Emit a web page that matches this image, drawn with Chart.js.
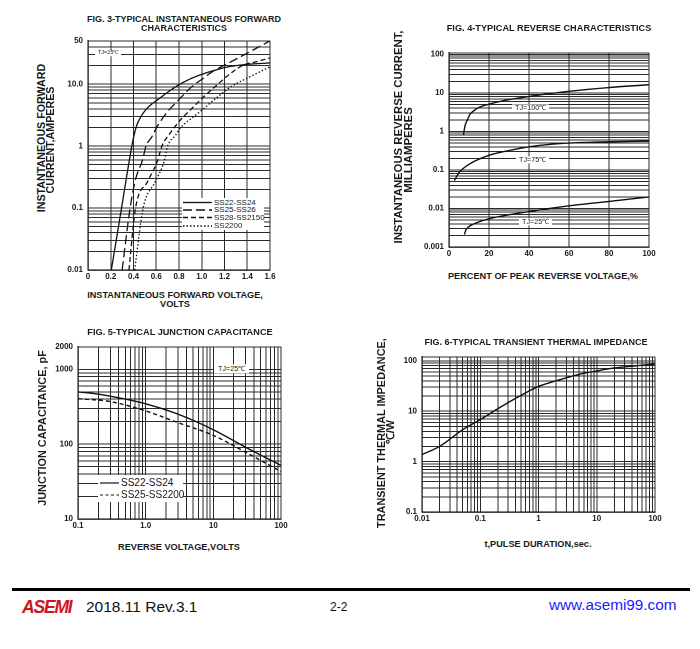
<!DOCTYPE html>
<html>
<head>
<meta charset="utf-8">
<script src="https://cdn.jsdelivr.net/npm/chart.js@4.4.1/dist/chart.umd.min.js"></script>
<style>
  html, body { margin:0; padding:0; background:#fff; }
  body { width:700px; height:649px; position:relative; overflow:hidden; font-family:"Liberation Sans", Arial, sans-serif; color:#1a1a1a; }
  canvas.ch { position:absolute; }
  .t { position:absolute; white-space:nowrap; font-weight:bold; transform:translate(-50%,-50%); z-index:5; line-height:1; }
  .r { transform:translate(-50%,-50%) rotate(-90deg); }
  .lab { position:absolute; white-space:nowrap; background:#fff; z-index:5; line-height:1; transform:translateY(-50%); }
  .leg { position:absolute; background:#fff; z-index:5; }
  .leg div { position:absolute; white-space:nowrap; line-height:1; transform:translateY(-50%); }
  .leg svg { position:absolute; overflow:visible; }
</style>
</head>
<body>

<!-- titles -->
<div class="t" style="left:184px;top:19px;font-size:9px;">FIG. 3-TYPICAL INSTANTANEOUS FORWARD</div>
<div class="t" style="left:184px;top:28px;font-size:9px;">CHARACTERISTICS</div>
<div class="t" style="left:549px;top:29px;font-size:9.2px;">FIG. 4-TYPICAL REVERSE CHARACTERISTICS</div>
<div class="t" style="left:180px;top:333px;font-size:9.2px;">FIG. 5-TYPICAL JUNCTION CAPACITANCE</div>
<div class="t" style="left:536px;top:342px;font-size:9px;">FIG. 6-TYPICAL TRANSIENT THERMAL IMPEDANCE</div>

<!-- x axis titles -->
<div class="t" style="left:175px;top:296px;font-size:9.2px;">INSTANTANEOUS FORWARD VOLTAGE,</div>
<div class="t" style="left:175px;top:305px;font-size:9.2px;">VOLTS</div>
<div class="t" style="left:543px;top:277px;font-size:9.2px;">PERCENT OF PEAK REVERSE VOLTAGE,%</div>
<div class="t" style="left:179px;top:548px;font-size:9.2px;">REVERSE VOLTAGE,VOLTS</div>
<div class="t" style="left:538px;top:545px;font-size:9.2px;">t,PULSE DURATION,sec.</div>

<!-- y axis titles -->
<div class="t r" style="left:41px;top:138px;font-size:10.7px;">INSTANTANEOUS FORWARD</div>
<div class="t r" style="left:50px;top:140px;font-size:10.7px;">CURRENT,AMPERES</div>
<div class="t r" style="left:399px;top:137px;font-size:11.3px;">INSTANTANEOUS REVERSE CURRENT,</div>
<div class="t r" style="left:409px;top:150px;font-size:11.3px;">MILLIAMPERES</div>
<div class="t r" style="left:42px;top:428px;font-size:10.9px;">JUNCTION CAPACITANCE, pF</div>
<div class="t r" style="left:381px;top:433px;font-size:10.9px;">TRANSIENT THERMAL IMPEDANCE,</div>
<div class="t r" style="left:390px;top:432px;font-size:10.9px;">℃/W</div>

<!-- in-plot labels -->
<div class="lab" style="left:95px;top:53px;font-size:5.5px;padding:0 3px;">TJ=25℃</div>
<div class="lab" style="left:512px;top:108px;font-size:7.2px;padding:0 3px;">TJ=100℃</div>
<div class="lab" style="left:516px;top:160px;font-size:7.2px;padding:0 3px;">TJ=75℃</div>
<div class="lab" style="left:519px;top:222px;font-size:7.2px;padding:0 3px;">TJ=25℃</div>
<div class="lab" style="left:214px;top:369px;font-size:7.2px;padding:1px 4px;">TJ=25℃</div>

<!-- legend fig 3 -->
<div class="leg" style="left:182px;top:198px;width:82px;height:32px;">
  <svg width="30" height="32" style="left:1px;top:0;">
    <line x1="0" y1="4.5" x2="29" y2="4.5" stroke="#111" stroke-width="1.3"/>
    <line x1="0" y1="12" x2="29" y2="12" stroke="#111" stroke-width="1.3" stroke-dasharray="9,4"/>
    <line x1="0" y1="19.5" x2="29" y2="19.5" stroke="#111" stroke-width="1.3" stroke-dasharray="5,3"/>
    <line x1="0" y1="28" x2="29" y2="28" stroke="#111" stroke-width="1.3" stroke-dasharray="1.5,2"/>
  </svg>
  <div style="left:32px;top:4.5px;font-size:8px;">SS22-SS24</div>
  <div style="left:32px;top:12px;font-size:8px;">SS25-SS26</div>
  <div style="left:32px;top:19.5px;font-size:8px;">SS28-SS2150</div>
  <div style="left:32px;top:28px;font-size:8px;">SS2200</div>
</div>

<!-- legend fig 5 -->
<div class="leg" style="left:98px;top:475px;width:85px;height:27px;">
  <svg width="22" height="27" style="left:2px;top:0;">
    <line x1="0" y1="8" x2="19" y2="8" stroke="#111" stroke-width="1.2"/>
    <line x1="0" y1="20" x2="19" y2="20" stroke="#111" stroke-width="1.2" stroke-dasharray="3,2.5"/>
  </svg>
  <div style="left:23px;top:8px;font-size:10px;">SS22-SS24</div>
  <div style="left:23px;top:20px;font-size:10px;">SS25-SS2200</div>
</div>

<!-- footer -->
<div style="position:absolute;left:12px;top:588px;width:678px;height:3px;background:#000;"></div>
<div style="position:absolute;left:22px;top:598px;font-size:17.5px;font-weight:bold;font-style:italic;color:#d0141e;letter-spacing:-1.2px;line-height:18px;">ASEMI</div>
<div style="position:absolute;left:86px;top:598px;font-size:15.5px;color:#111;line-height:18px;">2018.11 Rev.3.1</div>
<div style="position:absolute;left:330px;top:600px;font-size:12px;color:#111;line-height:14px;">2-2</div>
<div style="position:absolute;left:549px;top:596px;font-size:15.3px;color:#1a1aff;line-height:18px;">www.asemi99.com</div>

<canvas id="c3" class="ch"></canvas>
<canvas id="c4" class="ch"></canvas>
<canvas id="c5" class="ch"></canvas>
<canvas id="c6" class="ch"></canvas>

<script>
// ---------- DATA ----------
// Fig 3: forward voltage (V) vs forward current (A)
const F3_SS22_V = [0.205, 0.295, 0.385, 0.405, 0.43, 0.461, 0.50, 0.55, 0.607, 0.71, 0.81, 0.91, 1.016, 1.12, 1.22, 1.4, 1.6];
const F3_SS22_I = [0.01, 0.1, 1.0, 1.5, 2.2, 2.9, 3.7, 4.6, 5.5, 7.6, 10, 12.4, 14.7, 16.8, 18.8, 20.8, 22];
const F3_SS25_V = [0.30, 0.37, 0.42, 0.48, 0.51, 0.56, 0.607, 0.70, 0.81, 0.91, 1.016, 1.09, 1.25, 1.4, 1.6];
const F3_SS25_I = [0.01, 0.1, 0.3, 0.6, 1.0, 1.4, 2.05, 3.6, 5.9, 9.0, 12.5, 15.7, 22.6, 31.6, 50];
const F3_SS28_V = [0.36, 0.418, 0.525, 0.61, 0.65, 0.72, 0.81, 0.91, 1.016, 1.12, 1.25, 1.36, 1.48, 1.6];
const F3_SS28_I = [0.01, 0.1, 0.27, 0.57, 1.0, 1.6, 2.6, 4.0, 6.2, 9.2, 14.7, 20, 23, 26.5];
const F3_SS2200_V = [0.41, 0.485, 0.593, 0.67, 0.70, 0.77, 0.81, 0.91, 1.016, 1.12, 1.25, 1.4, 1.6];
const F3_SS2200_I = [0.01, 0.1, 0.27, 0.57, 1.0, 1.5, 1.95, 2.8, 4.0, 5.8, 8.9, 12.5, 19];
const F3_X_TICKS = [0, 0.2, 0.4, 0.6, 0.8, 1.0, 1.2, 1.4, 1.6];
const F3_X_LABELS = ['0', '0.2', '0.4', '0.6', '0.8', '1.0', '1.2', '1.4', '1.6'];
const F3_Y_TICKS = [0.01, 0.1, 1, 10, 50];
const F3_Y_LABELS = ['0.01', '0.1', '1', '10.0', '50'];

// Fig 4: percent of peak reverse voltage vs reverse current (mA)
const F4_T100_X = [7.2, 8, 9.2, 10.5, 12.5, 15, 20, 30, 40, 60, 80, 100];
const F4_T100_Y = [0.79, 1.4, 2.0, 2.8, 3.45, 4.2, 5.1, 6.7, 8.1, 11, 13.8, 16.3];
const F4_T75_X = [2.7, 5, 10, 20, 30, 40, 50, 60, 80, 100];
const F4_T75_Y = [0.053, 0.085, 0.14, 0.24, 0.32, 0.40, 0.46, 0.50, 0.54, 0.56];
const F4_T25_X = [7.7, 8.5, 10, 12, 20, 40, 60, 80, 100];
const F4_T25_Y = [0.0021, 0.0028, 0.0034, 0.0039, 0.0054, 0.0083, 0.0117, 0.0152, 0.02];
const F4_X_TICKS = [0, 20, 40, 60, 80, 100];
const F4_X_LABELS = ['0', '20', '40', '60', '80', '100'];
const F4_Y_TICKS = [0.001, 0.01, 0.1, 1, 10, 100];
const F4_Y_LABELS = ['0.001', '0.01', '0.1', '1', '10', '100'];

// Fig 5: reverse voltage (V) vs junction capacitance (pF)
const F5_VR = [0.1, 0.2, 0.5, 1, 3, 10, 30, 100];
const F5_SS22 = [499, 466, 400, 346, 252, 156, 91, 52];
const F5_VR_B = [0.1, 0.3, 1, 3, 10, 30, 100];
const F5_SS25 = [405, 371, 278, 194, 131, 78, 43];
const F5_X_TICKS = [0.1, 1, 10, 100];
const F5_X_LABELS = ['0.1', '1.0', '10', '100'];
const F5_Y_TICKS = [10, 100, 1000, 2000];
const F5_Y_LABELS = ['10', '100', '1000', '2000'];

// Fig 6: pulse duration (s) vs transient thermal impedance
const F6_T = [0.01, 0.02, 0.05, 0.1, 0.2, 0.5, 1, 2, 5, 10, 20, 50, 100];
const F6_Z = [1.38, 2.0, 4.3, 6.8, 11.2, 20.6, 31, 40, 54, 63, 72, 80, 86];
const F6_X_TICKS = [0.01, 0.1, 1, 10, 100];
const F6_X_LABELS = ['0.01', '0.1', '1', '10', '100'];
const F6_Y_TICKS = [0.1, 1, 10, 100];
const F6_Y_LABELS = ['0.1', '1', '10', '100'];

// ---------- HELPERS ----------
const TICK_FONT = { family: '"Liberation Sans", Arial, sans-serif', size: 8, weight: 'bold' };
const GRID_COLOR = '#2a2a2a';

function logGrid(min, max) {
  const out = [];
  for (let e = Math.floor(Math.log10(min)); Math.pow(10, e) <= max; e++) {
    for (let m = 1; m < 10; m++) {
      const v = +(m * Math.pow(10, e)).toPrecision(6);
      if (v >= min * 0.9999 && v <= max * 1.0001) out.push(v);
    }
  }
  if (Math.abs(out[0] - min) > min * 1e-6) out.unshift(min);
  if (Math.abs(out[out.length - 1] - max) > max * 1e-6) out.push(max);
  return out;
}
function labelMap(ticks, labels) {
  const m = {};
  ticks.forEach((t, i) => { m[String(+t.toPrecision(6))] = labels[i]; });
  return m;
}
function axis(kind, pos, min, max, gridVals, ticks, labels, fit) {
  const map = labelMap(ticks, labels);
  return {
    type: kind, position: pos, min: min, max: max,
    afterBuildTicks: s => { s.ticks = gridVals.map(v => ({ value: v })); },
    afterFit: s => { if (pos === 'left') s.width = fit; else s.height = fit; },
    ticks: {
      autoSkip: false, maxRotation: 0, minRotation: 0, padding: pos === 'left' ? 5 : 2,
      font: TICK_FONT, color: '#1a1a1a',
      callback: v => { const k = String(+Number(v).toPrecision(6)); return map[k] !== undefined ? map[k] : ''; }
    },
    grid: { color: GRID_COLOR, lineWidth: 1, drawTicks: false },
    border: { display: true, color: '#000', width: 1.2 }
  };
}
function series(xs, ys, dash, w) {
  return {
    data: xs.map((x, i) => ({ x: x, y: ys[i] })),
    borderColor: '#111', borderWidth: w || 1.3, borderDash: dash || [],
    pointRadius: 0, fill: false, cubicInterpolationMode: 'monotone'
  };
}
function makeChart(id, L, T, W, H, xAx, yAx, datasets) {
  const AL = 36, PT = 8, PR = 12, AB = 16;
  const cv = document.getElementById(id);
  cv.width = W + AL + PR; cv.height = H + PT + AB;
  cv.style.left = (L - AL) + 'px'; cv.style.top = (T - PT) + 'px';
  cv.style.width = cv.width + 'px'; cv.style.height = cv.height + 'px';
  return new Chart(cv, {
    type: 'line',
    data: { datasets: datasets },
    options: {
      responsive: false, animation: false, devicePixelRatio: 2,
      layout: { padding: { top: PT, right: PR, left: 0, bottom: 0 } },
      plugins: { legend: { display: false }, tooltip: { enabled: false } },
      scales: { x: xAx(AB), y: yAx(AL) }
    }
  });
}

// ---------- CHARTS ----------
makeChart('c3', 88, 39, 182, 231,
  f => axis('linear', 'bottom', 0, 1.6, F3_X_TICKS, F3_X_TICKS, F3_X_LABELS, f),
  f => axis('logarithmic', 'left', 0.01, 50, logGrid(0.01, 50), F3_Y_TICKS, F3_Y_LABELS, f),
  [series(F3_SS22_V, F3_SS22_I, []),
   series(F3_SS25_V, F3_SS25_I, [9, 4]),
   series(F3_SS28_V, F3_SS28_I, [5, 3]),
   series(F3_SS2200_V, F3_SS2200_I, [1.5, 2])]);

makeChart('c4', 449, 51, 200, 196,
  f => axis('linear', 'bottom', 0, 100, F4_X_TICKS, F4_X_TICKS, F4_X_LABELS, f),
  f => axis('logarithmic', 'left', 0.001, 110, logGrid(0.001, 110), F4_Y_TICKS, F4_Y_LABELS, f),
  [series(F4_T100_X, F4_T100_Y, [], 1.4),
   series(F4_T75_X, F4_T75_Y, [], 1.4),
   series(F4_T25_X, F4_T25_Y, [], 1.4)]);

makeChart('c5', 78, 345, 203, 174,
  f => axis('logarithmic', 'bottom', 0.1, 100, logGrid(0.1, 100), F5_X_TICKS, F5_X_LABELS, f),
  f => axis('logarithmic', 'left', 10, 2000, logGrid(10, 2000), F5_Y_TICKS, F5_Y_LABELS, f),
  [series(F5_VR, F5_SS22, [], 1.4),
   series(F5_VR_B, F5_SS25, [4, 3], 1.4)]);

makeChart('c6', 422, 355, 233, 157,
  f => axis('logarithmic', 'bottom', 0.01, 100, logGrid(0.01, 100), F6_X_TICKS, F6_X_LABELS, f),
  f => axis('logarithmic', 'left', 0.1, 120, logGrid(0.1, 120), F6_Y_TICKS, F6_Y_LABELS, f),
  [series(F6_T, F6_Z, [], 1.4)]);
</script>
</body>
</html>
